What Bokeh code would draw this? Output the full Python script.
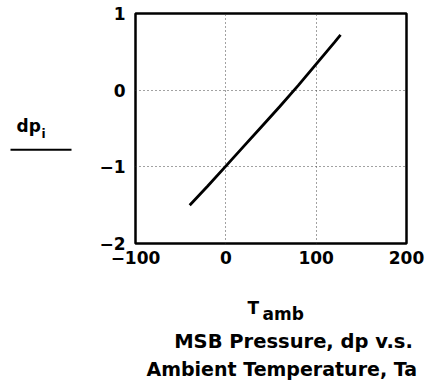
from bokeh.plotting import figure
from bokeh.models import Range1d, FixedTicker
from bokeh.layouts import column, row
from bokeh.core.properties import value
from bokeh.embed import file_html
from bokeh.resources import INLINE

# ---- data ----
temp_amb = [-40, -20, 0, 20, 40, 60, 80, 100, 120, 127]
dp_values = [-1.50, -1.25, -0.99, -0.73, -0.47, -0.21, 0.06, 0.34, 0.62, 0.72]
x_ticks = [-100, 0, 100, 200]
y_ticks = [-2, -1, 0, 1]
x_limits = (-100, 200)
y_limits = (-2, 1)

y_label_main = "dp"
y_label_sub = "i"
x_label_main = "T"
x_label_sub = "amb"
caption_lines = ["MSB Pressure, dp v.s.", "Ambient Temperature, Ta"]

FONT = "DejaVu Sans"

TOTAL_W, TOTAL_H = 428, 381
LEFT_W = 96
TOP_H = 270
MAIN_W = TOTAL_W - LEFT_W
BOTTOM_H = TOTAL_H - TOP_H

# ---- main chart ----
p = figure(width=MAIN_W, height=TOP_H, output_backend="svg", toolbar_location=None,
           x_range=Range1d(*x_limits), y_range=Range1d(*y_limits),
           min_border_left=132 - LEFT_W, min_border_right=TOTAL_W - 406,
           min_border_top=13, min_border_bottom=TOP_H - 243)
p.background_fill_color = "white"
p.border_fill_color = "white"
p.outline_line_color = "black"
p.outline_line_width = 2.5

p.xaxis.ticker = FixedTicker(ticks=x_ticks)
p.yaxis.ticker = FixedTicker(ticks=y_ticks)
for ax in (p.xaxis, p.yaxis):
    ax.axis_line_color = None
    ax.major_tick_line_color = None
    ax.minor_tick_line_color = None
    ax.major_tick_out = 0
    ax.major_tick_in = 0
    ax.major_label_text_font = FONT
    ax.major_label_text_font_style = "bold"
    ax.major_label_text_font_size = "17px"
    ax.major_label_text_color = "black"
p.yaxis.major_label_standoff = 10
p.xaxis.major_label_standoff = 7

p.xgrid.ticker = FixedTicker(ticks=x_ticks)
p.ygrid.ticker = FixedTicker(ticks=y_ticks)
for g in (p.xgrid, p.ygrid):
    g.grid_line_color = "#444444"
    g.grid_line_width = 1
    g.grid_line_dash = "1 3"

p.line(temp_amb, dp_values, line_color="black", line_width=2.8)


def text_panel(w, h):
    f = figure(width=w, height=h, output_backend="svg", toolbar_location=None,
               x_range=Range1d(0, w), y_range=Range1d(h, 0),
               x_axis_location=None, y_axis_location=None, min_border=0)
    f.outline_line_color = None
    f.background_fill_color = "white"
    f.border_fill_color = "white"
    f.xgrid.visible = False
    f.ygrid.visible = False
    return f


def txt(f, s, x, y, size, align="left"):
    f.text(x=[x], y=[y], text=[s], text_font=value(FONT), text_font_style="bold",
           text_font_size=size, text_color="black", text_align=align,
           text_baseline="alphabetic")


# ---- left panel: dp_i over a fraction bar ----
left = text_panel(LEFT_W, TOP_H)
txt(left, y_label_main, 16, 132, "17px")
txt(left, y_label_sub, 41, 141, "12px")
left.segment(x0=[10], y0=[160], x1=[71], y1=[160], line_color="black", line_width=2)

# ---- bottom panel: axis title and caption ----
bottom = text_panel(TOTAL_W, BOTTOM_H)
txt(bottom, x_label_main, 247, 307.5 - TOP_H, "17px")
txt(bottom, x_label_sub, 262, 313 - TOP_H, "17px")
txt(bottom, caption_lines[0], 293, 341 - TOP_H, "19.5px", align="center")
txt(bottom, caption_lines[1], 146, 368 - TOP_H, "19px")

layout = column(row(left, p), bottom)

with open("out.html", "w") as fh:
    fh.write(file_html(layout, INLINE))
